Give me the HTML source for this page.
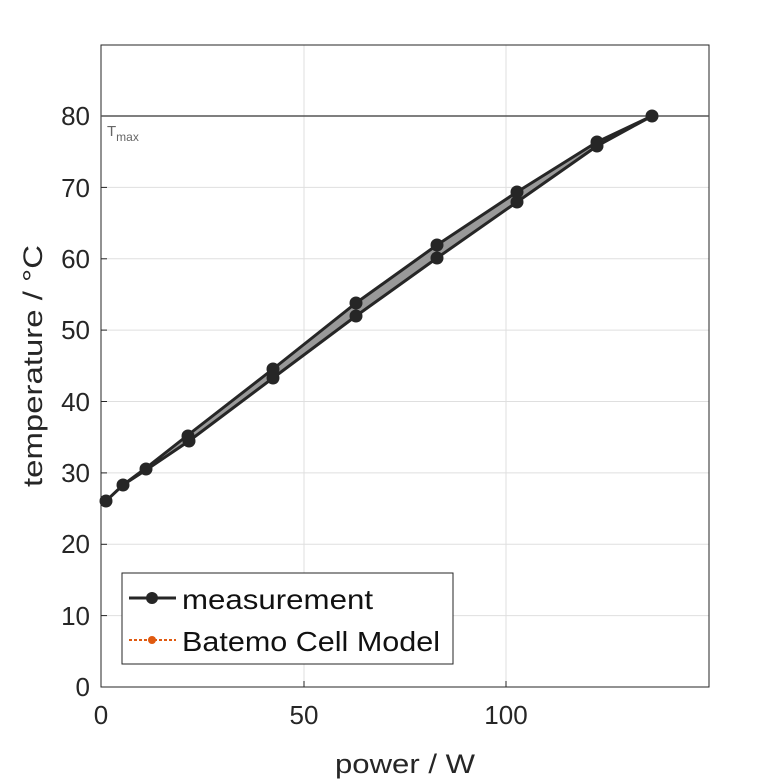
<!DOCTYPE html>
<html><head><style>body{margin:0;background:#fff}svg{display:block}text{font-family:"Liberation Sans",sans-serif;fill:#262626}</style></head><body>
<svg width="781" height="781" viewBox="0 0 781 781">
<rect x="101" y="45" width="608" height="642" fill="#fff" stroke="#262626" stroke-width="1"/>
<g stroke="#dfdfdf" stroke-width="1">
<line x1="304" y1="45" x2="304" y2="687"/><line x1="506" y1="45" x2="506" y2="687"/>
<line x1="101" y1="615.6" x2="709" y2="615.6"/><line x1="101" y1="544.3" x2="709" y2="544.3"/>
<line x1="101" y1="472.9" x2="709" y2="472.9"/><line x1="101" y1="401.5" x2="709" y2="401.5"/>
<line x1="101" y1="330.1" x2="709" y2="330.1"/><line x1="101" y1="258.8" x2="709" y2="258.8"/>
<line x1="101" y1="187.4" x2="709" y2="187.4"/>
</g>
<rect x="101" y="45" width="608" height="642" fill="none" stroke="#262626" stroke-width="1"/>
<g stroke="#262626">
<line x1="101" y1="615.6" x2="107" y2="615.6"/><line x1="101" y1="544.3" x2="107" y2="544.3"/><line x1="101" y1="472.9" x2="107" y2="472.9"/><line x1="101" y1="401.5" x2="107" y2="401.5"/><line x1="101" y1="330.1" x2="107" y2="330.1"/><line x1="101" y1="258.8" x2="107" y2="258.8"/><line x1="101" y1="187.4" x2="107" y2="187.4"/>
<line x1="304" y1="687" x2="304" y2="681"/><line x1="506" y1="687" x2="506" y2="681"/>
</g>
<line x1="101" y1="116" x2="709" y2="116" stroke="#555" stroke-width="1.5"/>
<text x="107" y="136" font-size="15" style="fill:#666">T<tspan font-size="12" dy="5">max</tspan></text>
<polygon points="106,501 123,485 146,468 188,435 273,369 356,303 437,245 517,192 597,142 652,116 597,146 517,202 437,258 356,316 273,378 189,441 146,470 123,485" fill="#999" stroke="#262626" stroke-width="3" stroke-linejoin="round"/>
<g fill="#262626">
<circle cx="106" cy="501" r="6.5"/><circle cx="123" cy="485" r="6.5"/><circle cx="146" cy="469" r="6.5"/>
<circle cx="188" cy="436" r="6.5"/><circle cx="189" cy="441" r="6.5"/>
<circle cx="273" cy="369" r="6.5"/><circle cx="273" cy="378" r="6.5"/>
<circle cx="356" cy="303" r="6.5"/><circle cx="356" cy="316" r="6.5"/>
<circle cx="437" cy="245" r="6.5"/><circle cx="437" cy="258" r="6.5"/>
<circle cx="517" cy="192" r="6.5"/><circle cx="517" cy="202" r="6.5"/>
<circle cx="597" cy="142" r="6.5"/><circle cx="597" cy="146" r="6.5"/>
<circle cx="652" cy="116" r="6.5"/>
</g>
<g font-size="26" text-anchor="end">
<text x="90" y="696">0</text><text x="90" y="625">10</text><text x="90" y="553">20</text><text x="90" y="482">30</text><text x="90" y="411">40</text><text x="90" y="339">50</text><text x="90" y="268">60</text><text x="90" y="197">70</text><text x="90" y="125">80</text>
</g>
<g font-size="26" text-anchor="middle">
<text x="101" y="724">0</text><text x="304" y="724">50</text><text x="506" y="724">100</text>
</g>
<text x="335" y="773" font-size="27" textLength="140" lengthAdjust="spacingAndGlyphs">power / W</text>
<text transform="translate(42,487) rotate(-90)" font-size="27" textLength="242" lengthAdjust="spacingAndGlyphs">temperature / °C</text>
<rect x="122" y="573" width="331" height="91" fill="#fff" stroke="#262626" stroke-width="1"/>
<line x1="129" y1="598" x2="176" y2="598" stroke="#262626" stroke-width="3"/>
<circle cx="152" cy="598" r="6" fill="#262626"/>
<line x1="129" y1="640" x2="176" y2="640" stroke="#e05a10" stroke-width="2" stroke-dasharray="3,2"/>
<circle cx="152" cy="640" r="4" fill="#e05a10"/>
<text x="182" y="609" font-size="28" style="fill:#111" textLength="191" lengthAdjust="spacingAndGlyphs">measurement</text>
<text x="182" y="651" font-size="28" style="fill:#111" textLength="258" lengthAdjust="spacingAndGlyphs">Batemo Cell Model</text>
</svg>
</body></html>
